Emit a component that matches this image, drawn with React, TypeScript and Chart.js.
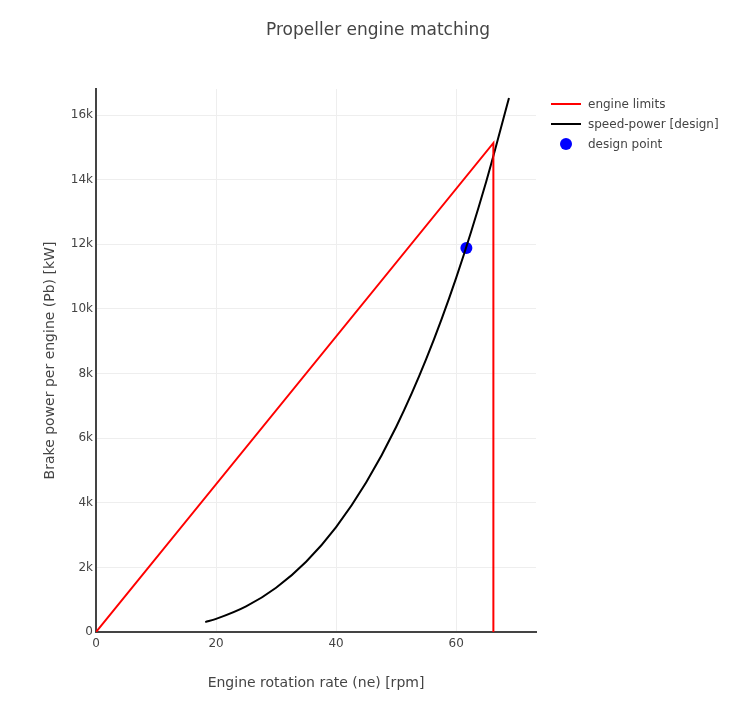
import React, { useEffect, useRef } from 'react';
import Chart from 'chart.js/auto';

const FONT = "'DejaVu Sans', Verdana, sans-serif";

// engine limits: linear rise to max power, then vertical drop at max rpm
const limitRpm = [0, 66.2, 66.2];
const limitPower = [0, 15140, 0];

// speed-power [design] curve
const curveRpm = [18.2, 20, 25, 30, 35, 40, 45, 50, 55, 60, 65, 68.8];
const curvePower = [306, 406, 793, 1371, 2176, 3249, 4626, 6345, 8445, 10964, 13940, 16530];

const designRpm = [61.7];
const designPower = [11890];

const xTicks = [0, 20, 40, 60];
const yTicks = [0, 2000, 4000, 6000, 8000, 10000, 12000, 14000, 16000];

const seriesNames = ['engine limits', 'speed-power [design]', 'design point'];
const seriesColors = ['rgb(255, 0, 0)', 'rgb(0, 0, 0)', 'rgb(0, 0, 255)'];

const toPoints = (xs: number[], ys: number[]) => xs.map((x, i) => ({ x, y: ys[i] }));

const overlay = {
  id: 'overlay',
  afterDraw(chart: Chart) {
    const ctx = chart.ctx;
    ctx.save();
    // title
    ctx.fillStyle = '#444';
    ctx.font = `17px ${FONT}`;
    ctx.textAlign = 'center';
    ctx.textBaseline = 'middle';
    ctx.fillText('Propeller engine matching', 378, 31);

    // legend
    ctx.font = `12px ${FONT}`;
    ctx.textAlign = 'left';
    seriesNames.forEach((name, i) => {
      const y = 104 + i * 20;
      if (i < 2) {
        ctx.strokeStyle = seriesColors[i];
        ctx.lineWidth = 2;
        ctx.beginPath();
        ctx.moveTo(551, y);
        ctx.lineTo(581, y);
        ctx.stroke();
      } else {
        ctx.fillStyle = seriesColors[i];
        ctx.beginPath();
        ctx.arc(566, y, 6, 0, Math.PI * 2);
        ctx.fill();
      }
      ctx.fillStyle = '#444';
      ctx.fillText(name, 588, y + 1);
    });
    ctx.restore();
  },
};

const App: React.FC = () => {
  const canvasRef = useRef<HTMLCanvasElement | null>(null);
  const chartRef = useRef<Chart | null>(null);

  useEffect(() => {
    document.body.style.margin = '0';
    const ctx = canvasRef.current?.getContext('2d');
    if (ctx) {
      chartRef.current = new Chart(ctx, {
        type: 'line',
        data: {
          datasets: [
            {
              label: seriesNames[0],
              data: toPoints(limitRpm, limitPower),
              borderColor: seriesColors[0],
              borderWidth: 2,
              pointRadius: 0,
              tension: 0,
            },
            {
              label: seriesNames[1],
              data: toPoints(curveRpm, curvePower),
              borderColor: seriesColors[1],
              borderWidth: 2,
              pointRadius: 0,
              cubicInterpolationMode: 'monotone',
            },
            {
              label: seriesNames[2],
              data: toPoints(designRpm, designPower),
              borderColor: seriesColors[2],
              backgroundColor: seriesColors[2],
              showLine: false,
              pointRadius: 6,
              pointBorderWidth: 0,
            },
          ],
        },
        options: {
          animation: false,
          responsive: true,
          maintainAspectRatio: false,
          layout: { padding: { left: 0, top: 89, right: 214, bottom: 0 } },
          plugins: {
            legend: { display: false },
            title: { display: false },
            tooltip: { enabled: false },
          },
          scales: {
            x: {
              type: 'linear',
              min: 0,
              max: 73.3,
              afterBuildTicks: (scale: any) => {
                scale.ticks = xTicks.map((value) => ({ value }));
              },
              afterFit: (scale: any) => {
                scale.height = 77;
              },
              ticks: {
                autoSkip: false,
                maxRotation: 0,
                color: '#444',
                padding: 5,
                font: { family: FONT, size: 12 },
              },
              grid: { color: '#eee', lineWidth: 1, drawTicks: false },
              border: { display: true, color: '#444', width: 2 },
              title: {
                display: true,
                text: 'Engine rotation rate (ne) [rpm]',
                color: '#444',
                font: { family: FONT, size: 14 },
                padding: { top: 0, bottom: 17.6 },
              },
            },
            y: {
              type: 'linear',
              min: 0,
              max: 16810,
              afterBuildTicks: (scale: any) => {
                scale.ticks = yTicks.map((value) => ({ value }));
              },
              afterFit: (scale: any) => {
                scale.width = 96;
              },
              ticks: {
                autoSkip: false,
                color: '#444',
                padding: 3,
                font: { family: FONT, size: 12 },
                callback: (v: any) => (v === 0 ? '0' : `${v / 1000}k`),
              },
              grid: { color: '#eee', lineWidth: 1, drawTicks: false },
              border: { display: true, color: '#444', width: 2 },
              title: {
                display: true,
                text: 'Brake power per engine (Pb) [kW]',
                color: '#444',
                font: { family: FONT, size: 14 },
                padding: { top: 42, bottom: 0 },
              },
            },
          },
        },
        plugins: [overlay],
      });
    }
    return () => {
      if (chartRef.current) chartRef.current.destroy();
    };
  }, []);

  return (
    <div style={{ width: 750, height: 709, position: 'relative' }}>
      <canvas ref={canvasRef}></canvas>
    </div>
  );
};

export default App;
